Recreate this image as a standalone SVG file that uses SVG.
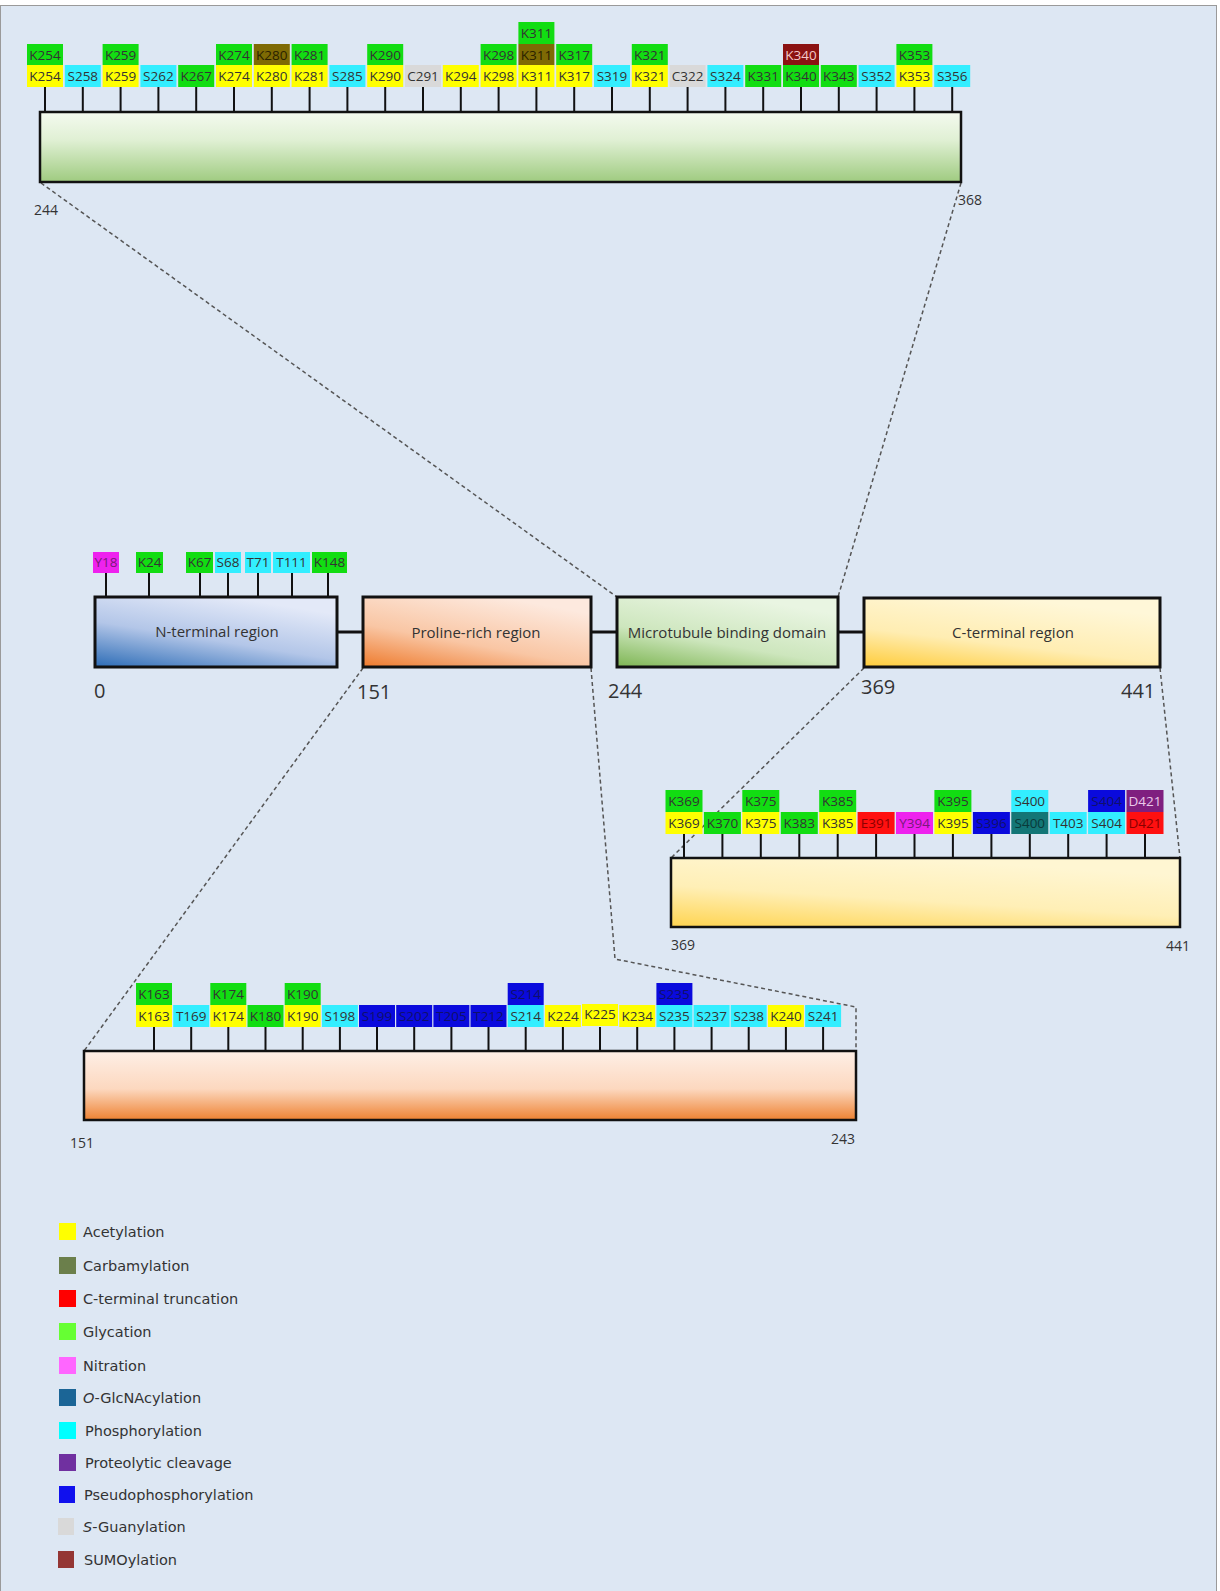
<svg xmlns="http://www.w3.org/2000/svg" width="1220" height="1591" viewBox="0 0 1220 1591">
<defs>
<linearGradient id="gN" x1="0" y1="1" x2="0.55" y2="0"><stop offset="0" stop-color="#2C6CB6"/><stop offset="0.5" stop-color="#B3C6E8"/><stop offset="1" stop-color="#E3E9F8"/></linearGradient>
<linearGradient id="gP" x1="0" y1="1" x2="0.6" y2="0"><stop offset="0" stop-color="#EE7A2C"/><stop offset="0.45" stop-color="#F9C6A4"/><stop offset="1" stop-color="#FDE9DE"/></linearGradient>
<linearGradient id="gM" x1="0" y1="1" x2="0.55" y2="0"><stop offset="0" stop-color="#7DB552"/><stop offset="0.45" stop-color="#CDE6BD"/><stop offset="1" stop-color="#E9F5E2"/></linearGradient>
<linearGradient id="gC" x1="0" y1="1" x2="0.5" y2="0"><stop offset="0" stop-color="#FFCC3A"/><stop offset="0.45" stop-color="#FFEDB2"/><stop offset="1" stop-color="#FFF7D8"/></linearGradient>
<linearGradient id="gMz" x1="0" y1="0" x2="0" y2="1"><stop offset="0" stop-color="#F4FAEF"/><stop offset="0.4" stop-color="#E0F0D4"/><stop offset="1" stop-color="#9FCB80"/></linearGradient>
<linearGradient id="gPz" x1="0" y1="0" x2="0" y2="1"><stop offset="0" stop-color="#FEEFE6"/><stop offset="0.55" stop-color="#FCD8BF"/><stop offset="1" stop-color="#EE8232"/></linearGradient>
<linearGradient id="gCz" x1="0" y1="1" x2="0.45" y2="0"><stop offset="0" stop-color="#FFD450"/><stop offset="0.5" stop-color="#FFEFB6"/><stop offset="1" stop-color="#FFF6D2"/></linearGradient>
<style>
.dom{stroke:#111;stroke-width:3}
.zb{stroke:#111;stroke-width:2.5}
.tk{stroke:#111;stroke-width:2}
.lb text{font-family:"Open Sans","Liberation Sans",sans-serif;font-size:13.5px;text-anchor:middle;fill:#333}
.y{fill:#FFFF00}.g{fill:#12DD12}.c{fill:#33EEFF}.b{fill:#0A0ADD}.gr{fill:#D9D9D9}.ol{fill:#7E6A04}.dr{fill:#8B1212}.m{fill:#EE22EE}.r{fill:#FF1010}.t{fill:#137676}.p{fill:#7F1F7F}
.lb text.tb{fill:#10106A}.lb text.tdr{fill:#F2C8C8}.lb text.tp{fill:#EAC8EA}.lb text.tr{fill:#8B0000}.lb text.tm{fill:#7A1A7A}.lb text.tt{fill:#0A3A3A}.lb text.to{fill:#2A2200}
.dl{font-family:"Open Sans","Liberation Sans",sans-serif;font-size:15px;fill:#333;text-anchor:middle}
.num{font-family:"Open Sans","Liberation Sans",sans-serif;font-size:20px;fill:#333}
.sn{font-family:"Open Sans","Liberation Sans",sans-serif;font-size:14px;fill:#333}
.dash{fill:none;stroke:#555;stroke-width:1.5;stroke-dasharray:4 3}
.lg text{font-family:"DejaVu Sans","Verdana",sans-serif;font-size:14.5px;fill:#333}
</style>
</defs>
<rect x="0" y="0" width="1220" height="1591" fill="#FFFFFF"/>
<rect x="0.5" y="5.5" width="1216" height="1590" fill="#DDE7F3" stroke="#9A9A9A" stroke-width="1"/>

<g id="connectors">
<line x1="337" y1="632" x2="363" y2="632" stroke="#111" stroke-width="3"/>
<line x1="591" y1="632" x2="617" y2="632" stroke="#111" stroke-width="3"/>
<line x1="838" y1="632" x2="864" y2="632" stroke="#111" stroke-width="3"/>
<line class="dash" x1="41" y1="183" x2="617" y2="597"/>
<line class="dash" x1="961" y1="183" x2="838" y2="597"/>
<line class="dash" x1="864" y1="668" x2="671" y2="858"/>
<line class="dash" x1="1160" y1="668" x2="1180" y2="858"/>
<line class="dash" x1="363" y1="668" x2="84" y2="1051"/>
<polyline class="dash" points="591,668 615,959 856,1007 856,1051"/>
</g>

<g id="domain-nterm"><rect class="dom" x="95" y="597" width="242" height="70" fill="url(#gN)"/><text class="dl" x="217" y="637">N-terminal  region</text><text class="num" x="94" y="698">0</text></g>
<g id="domain-proline"><rect class="dom" x="363" y="597" width="228" height="70" fill="url(#gP)"/><text class="dl" x="476" y="638">Proline-rich region</text><text class="num" x="357" y="699">151</text></g>
<g id="domain-mtbd"><rect class="dom" x="617" y="597" width="221" height="70" fill="url(#gM)"/><text class="dl" x="727" y="638">Microtubule binding domain</text><text class="num" x="608" y="698">244</text></g>
<g id="domain-cterm"><rect class="dom" x="864" y="598" width="296" height="69" fill="url(#gC)"/><text class="dl" x="1013" y="638">C-terminal  region</text><text class="num" x="861" y="694">369</text><text class="num" x="1121" y="698">441</text></g>

<g id="zoom-mtbd"><rect class="zb" x="40" y="112" width="921" height="70" fill="url(#gMz)"/><text class="sn" x="34" y="215">244</text><text class="sn" x="958" y="205">368</text></g>
<g id="zoom-proline"><rect class="zb" x="84" y="1051" width="772" height="69" fill="url(#gPz)"/><text class="sn" x="70" y="1148">151</text><text class="sn" x="831" y="1144">243</text></g>
<g id="zoom-cterm"><rect class="zb" x="671" y="858" width="509" height="69" fill="url(#gCz)"/><text class="sn" x="671" y="950">369</text><text class="sn" x="1166" y="951">441</text></g>

<g id="ptm-nterm" class="lb">
<line class="tk" x1="106" y1="573" x2="106" y2="597"/><rect class="m" x="93" y="552" width="26" height="21"/><text class="tm" x="106" y="567">Y18</text>
<line class="tk" x1="149" y1="573" x2="149" y2="597"/><rect class="g" x="136" y="552" width="27" height="21"/><text x="149.5" y="567">K24</text>
<line class="tk" x1="200" y1="573" x2="200" y2="597"/><rect class="g" x="186" y="552" width="27" height="21"/><text x="199.5" y="567">K67</text>
<line class="tk" x1="228" y1="573" x2="228" y2="597"/><rect class="c" x="215" y="552" width="26" height="21"/><text x="228" y="567">S68</text>
<line class="tk" x1="258" y1="573" x2="258" y2="597"/><rect class="c" x="245" y="552" width="26" height="21"/><text x="258" y="567">T71</text>
<line class="tk" x1="292" y1="573" x2="292" y2="597"/><rect class="c" x="273" y="552" width="37" height="21"/><text x="291.5" y="567">T111</text>
<line class="tk" x1="328" y1="573" x2="328" y2="597"/><rect class="g" x="312" y="552" width="35" height="21"/><text x="329.5" y="567">K148</text>
</g>

<g id="ptm-mtbd" class="lb">
<g id="s-K254"><line class="tk" x1="45" y1="87" x2="45" y2="112"/><rect class="y" x="27" y="65" width="36" height="22"/><text x="45" y="81">K254</text><rect class="g" x="27" y="44" width="36" height="21"/><text x="45" y="59.5">K254</text></g>
<g id="s-S258"><line class="tk" x1="82.8" y1="87" x2="82.8" y2="112"/><rect class="c" x="64.8" y="65" width="36" height="22"/><text x="82.8" y="81">S258</text></g>
<g id="s-K259"><line class="tk" x1="120.6" y1="87" x2="120.6" y2="112"/><rect class="y" x="102.6" y="65" width="36" height="22"/><text x="120.6" y="81">K259</text><rect class="g" x="102.6" y="44" width="36" height="21"/><text x="120.6" y="59.5">K259</text></g>
<g id="s-S262"><line class="tk" x1="158.4" y1="87" x2="158.4" y2="112"/><rect class="c" x="140.4" y="65" width="36" height="22"/><text x="158.4" y="81">S262</text></g>
<g id="s-K267"><line class="tk" x1="196.2" y1="87" x2="196.2" y2="112"/><rect class="g" x="178.2" y="65" width="36" height="22"/><text x="196.2" y="81">K267</text></g>
<g id="s-K274"><line class="tk" x1="234" y1="87" x2="234" y2="112"/><rect class="y" x="216" y="65" width="36" height="22"/><text x="234" y="81">K274</text><rect class="g" x="216" y="44" width="36" height="21"/><text x="234" y="59.5">K274</text></g>
<g id="s-K280"><line class="tk" x1="271.8" y1="87" x2="271.8" y2="112"/><rect class="y" x="253.8" y="65" width="36" height="22"/><text x="271.8" y="81">K280</text><rect class="ol" x="253.8" y="44" width="36" height="21"/><text class="to" x="271.8" y="59.5">K280</text></g>
<g id="s-K281"><line class="tk" x1="309.6" y1="87" x2="309.6" y2="112"/><rect class="y" x="291.6" y="65" width="36" height="22"/><text x="309.6" y="81">K281</text><rect class="g" x="291.6" y="44" width="36" height="21"/><text x="309.6" y="59.5">K281</text></g>
<g id="s-S285"><line class="tk" x1="347.4" y1="87" x2="347.4" y2="112"/><rect class="c" x="329.4" y="65" width="36" height="22"/><text x="347.4" y="81">S285</text></g>
<g id="s-K290"><line class="tk" x1="385.2" y1="87" x2="385.2" y2="112"/><rect class="y" x="367.2" y="65" width="36" height="22"/><text x="385.2" y="81">K290</text><rect class="g" x="367.2" y="44" width="36" height="21"/><text x="385.2" y="59.5">K290</text></g>
<g id="s-C291"><line class="tk" x1="423" y1="87" x2="423" y2="112"/><rect class="gr" x="405" y="65" width="36" height="22"/><text x="423" y="81">C291</text></g>
<g id="s-K294"><line class="tk" x1="460.8" y1="87" x2="460.8" y2="112"/><rect class="y" x="442.8" y="65" width="36" height="22"/><text x="460.8" y="81">K294</text></g>
<g id="s-K298"><line class="tk" x1="498.6" y1="87" x2="498.6" y2="112"/><rect class="y" x="480.6" y="65" width="36" height="22"/><text x="498.6" y="81">K298</text><rect class="g" x="480.6" y="44" width="36" height="21"/><text x="498.6" y="59.5">K298</text></g>
<g id="s-K311"><line class="tk" x1="536.4" y1="87" x2="536.4" y2="112"/><rect class="y" x="518.4" y="65" width="36" height="22"/><text x="536.4" y="81">K311</text><rect class="ol" x="518.4" y="44" width="36" height="21"/><text class="to" x="536.4" y="59.5">K311</text><rect class="g" x="518.4" y="22" width="36" height="22"/><text x="536.4" y="38">K311</text></g>
<g id="s-K317"><line class="tk" x1="574.2" y1="87" x2="574.2" y2="112"/><rect class="y" x="556.2" y="65" width="36" height="22"/><text x="574.2" y="81">K317</text><rect class="g" x="556.2" y="44" width="36" height="21"/><text x="574.2" y="59.5">K317</text></g>
<g id="s-S319"><line class="tk" x1="612" y1="87" x2="612" y2="112"/><rect class="c" x="594" y="65" width="36" height="22"/><text x="612" y="81">S319</text></g>
<g id="s-K321"><line class="tk" x1="649.8" y1="87" x2="649.8" y2="112"/><rect class="y" x="631.8" y="65" width="36" height="22"/><text x="649.8" y="81">K321</text><rect class="g" x="631.8" y="44" width="36" height="21"/><text x="649.8" y="59.5">K321</text></g>
<g id="s-C322"><line class="tk" x1="687.6" y1="87" x2="687.6" y2="112"/><rect class="gr" x="669.6" y="65" width="36" height="22"/><text x="687.6" y="81">C322</text></g>
<g id="s-S324"><line class="tk" x1="725.4" y1="87" x2="725.4" y2="112"/><rect class="c" x="707.4" y="65" width="36" height="22"/><text x="725.4" y="81">S324</text></g>
<g id="s-K331"><line class="tk" x1="763.2" y1="87" x2="763.2" y2="112"/><rect class="g" x="745.2" y="65" width="36" height="22"/><text x="763.2" y="81">K331</text></g>
<g id="s-K340"><line class="tk" x1="801" y1="87" x2="801" y2="112"/><rect class="g" x="783" y="65" width="36" height="22"/><text x="801" y="81">K340</text><rect class="dr" x="783" y="44" width="36" height="21"/><text class="tdr" x="801" y="59.5">K340</text></g>
<g id="s-K343"><line class="tk" x1="838.8" y1="87" x2="838.8" y2="112"/><rect class="g" x="820.8" y="65" width="36" height="22"/><text x="838.8" y="81">K343</text></g>
<g id="s-S352"><line class="tk" x1="876.6" y1="87" x2="876.6" y2="112"/><rect class="c" x="858.6" y="65" width="36" height="22"/><text x="876.6" y="81">S352</text></g>
<g id="s-K353"><line class="tk" x1="914.4" y1="87" x2="914.4" y2="112"/><rect class="y" x="896.4" y="65" width="36" height="22"/><text x="914.4" y="81">K353</text><rect class="g" x="896.4" y="44" width="36" height="21"/><text x="914.4" y="59.5">K353</text></g>
<g id="s-S356"><line class="tk" x1="952.2" y1="87" x2="952.2" y2="112"/><rect class="c" x="934.2" y="65" width="36" height="22"/><text x="952.2" y="81">S356</text></g>
</g>

<g id="ptm-cterm" class="lb">
<g id="s-K369"><line class="tk" x1="684" y1="834" x2="684" y2="858"/><rect class="y" x="665.5" y="812" width="37" height="22"/><text x="684" y="828">K369</text><rect class="g" x="665.5" y="790" width="37" height="22"/><text x="684" y="806">K369</text></g>
<g id="s-K370"><line class="tk" x1="722.4" y1="834" x2="722.4" y2="858"/><rect class="g" x="703.9" y="812" width="37" height="22"/><text x="722.4" y="828">K370</text></g>
<g id="s-K375"><line class="tk" x1="760.8" y1="834" x2="760.8" y2="858"/><rect class="y" x="742.3" y="812" width="37" height="22"/><text x="760.8" y="828">K375</text><rect class="g" x="742.3" y="790" width="37" height="22"/><text x="760.8" y="806">K375</text></g>
<g id="s-K383"><line class="tk" x1="799.3" y1="834" x2="799.3" y2="858"/><rect class="g" x="780.8" y="812" width="37" height="22"/><text x="799.3" y="828">K383</text></g>
<g id="s-K385"><line class="tk" x1="837.7" y1="834" x2="837.7" y2="858"/><rect class="y" x="819.2" y="812" width="37" height="22"/><text x="837.7" y="828">K385</text><rect class="g" x="819.2" y="790" width="37" height="22"/><text x="837.7" y="806">K385</text></g>
<g id="s-E391"><line class="tk" x1="876.1" y1="834" x2="876.1" y2="858"/><rect class="r" x="857.6" y="812" width="37" height="22"/><text class="tr" x="876.1" y="828">E391</text></g>
<g id="s-Y394"><line class="tk" x1="914.5" y1="834" x2="914.5" y2="858"/><rect class="m" x="896" y="812" width="37" height="22"/><text class="tm" x="914.5" y="828">Y394</text></g>
<g id="s-K395"><line class="tk" x1="952.9" y1="834" x2="952.9" y2="858"/><rect class="y" x="934.4" y="812" width="37" height="22"/><text x="952.9" y="828">K395</text><rect class="g" x="934.4" y="790" width="37" height="22"/><text x="952.9" y="806">K395</text></g>
<g id="s-S396"><line class="tk" x1="991.4" y1="834" x2="991.4" y2="858"/><rect class="b" x="972.9" y="812" width="37" height="22"/><text class="tb" x="991.4" y="828">S396</text></g>
<g id="s-S400"><line class="tk" x1="1029.8" y1="834" x2="1029.8" y2="858"/><rect class="t" x="1011.3" y="812" width="37" height="22"/><text class="tt" x="1029.8" y="828">S400</text><rect class="c" x="1011.3" y="790" width="37" height="22"/><text x="1029.8" y="806">S400</text></g>
<g id="s-T403"><line class="tk" x1="1068.2" y1="834" x2="1068.2" y2="858"/><rect class="c" x="1049.7" y="812" width="37" height="22"/><text x="1068.2" y="828">T403</text></g>
<g id="s-S404"><line class="tk" x1="1106.6" y1="834" x2="1106.6" y2="858"/><rect class="c" x="1088.1" y="812" width="37" height="22"/><text x="1106.6" y="828">S404</text><rect class="b" x="1088.1" y="790" width="37" height="22"/><text class="tb" x="1106.6" y="806">S404</text></g>
<g id="s-D421"><line class="tk" x1="1145" y1="834" x2="1145" y2="858"/><rect class="r" x="1126.5" y="812" width="37" height="22"/><text class="tr" x="1145" y="828">D421</text><rect class="p" x="1126.5" y="790" width="37" height="22"/><text class="tp" x="1145" y="806">D421</text></g>
</g>

<g id="ptm-proline" class="lb">
<g id="s-K163"><line class="tk" x1="154" y1="1027" x2="154" y2="1051"/><rect class="y" x="136" y="1005" width="36" height="22"/><text x="154" y="1021">K163</text><rect class="g" x="136" y="983" width="36" height="22"/><text x="154" y="999">K163</text></g>
<g id="s-T169"><line class="tk" x1="191.2" y1="1027" x2="191.2" y2="1051"/><rect class="c" x="173.2" y="1005" width="36" height="22"/><text x="191.2" y="1021">T169</text></g>
<g id="s-K174"><line class="tk" x1="228.3" y1="1027" x2="228.3" y2="1051"/><rect class="y" x="210.3" y="1005" width="36" height="22"/><text x="228.3" y="1021">K174</text><rect class="g" x="210.3" y="983" width="36" height="22"/><text x="228.3" y="999">K174</text></g>
<g id="s-K180"><line class="tk" x1="265.5" y1="1027" x2="265.5" y2="1051"/><rect class="g" x="247.5" y="1005" width="36" height="22"/><text x="265.5" y="1021">K180</text></g>
<g id="s-K190"><line class="tk" x1="302.7" y1="1027" x2="302.7" y2="1051"/><rect class="y" x="284.7" y="1005" width="36" height="22"/><text x="302.7" y="1021">K190</text><rect class="g" x="284.7" y="983" width="36" height="22"/><text x="302.7" y="999">K190</text></g>
<g id="s-S198"><line class="tk" x1="339.9" y1="1027" x2="339.9" y2="1051"/><rect class="c" x="321.9" y="1005" width="36" height="22"/><text x="339.9" y="1021">S198</text></g>
<g id="s-S199"><line class="tk" x1="377" y1="1027" x2="377" y2="1051"/><rect class="b" x="359" y="1005" width="36" height="22"/><text class="tb" x="377" y="1021">S199</text></g>
<g id="s-S202"><line class="tk" x1="414.2" y1="1027" x2="414.2" y2="1051"/><rect class="b" x="396.2" y="1005" width="36" height="22"/><text class="tb" x="414.2" y="1021">S202</text></g>
<g id="s-T205"><line class="tk" x1="451.4" y1="1027" x2="451.4" y2="1051"/><rect class="b" x="433.4" y="1005" width="36" height="22"/><text class="tb" x="451.4" y="1021">T205</text></g>
<g id="s-T212"><line class="tk" x1="488.5" y1="1027" x2="488.5" y2="1051"/><rect class="b" x="470.5" y="1005" width="36" height="22"/><text class="tb" x="488.5" y="1021">T212</text></g>
<g id="s-S214"><line class="tk" x1="525.7" y1="1027" x2="525.7" y2="1051"/><rect class="c" x="507.7" y="1005" width="36" height="22"/><text x="525.7" y="1021">S214</text><rect class="b" x="507.7" y="983" width="36" height="22"/><text class="tb" x="525.7" y="999">S214</text></g>
<g id="s-K224"><line class="tk" x1="562.9" y1="1027" x2="562.9" y2="1051"/><rect class="y" x="544.9" y="1005" width="36" height="22"/><text x="562.9" y="1021">K224</text></g>
<g id="s-K225"><line class="tk" x1="600" y1="1027" x2="600" y2="1051"/><rect class="y" x="582" y="1004" width="36" height="22"/><text x="600" y="1019">K225</text></g>
<g id="s-K234"><line class="tk" x1="637.2" y1="1027" x2="637.2" y2="1051"/><rect class="y" x="619.2" y="1005" width="36" height="22"/><text x="637.2" y="1021">K234</text></g>
<g id="s-S235"><line class="tk" x1="674.4" y1="1027" x2="674.4" y2="1051"/><rect class="c" x="656.4" y="1005" width="36" height="22"/><text x="674.4" y="1021">S235</text><rect class="b" x="656.4" y="983" width="36" height="22"/><text class="tb" x="674.4" y="999">S235</text></g>
<g id="s-S237"><line class="tk" x1="711.6" y1="1027" x2="711.6" y2="1051"/><rect class="c" x="693.6" y="1005" width="36" height="22"/><text x="711.6" y="1021">S237</text></g>
<g id="s-S238"><line class="tk" x1="748.7" y1="1027" x2="748.7" y2="1051"/><rect class="c" x="730.7" y="1005" width="36" height="22"/><text x="748.7" y="1021">S238</text></g>
<g id="s-K240"><line class="tk" x1="785.9" y1="1027" x2="785.9" y2="1051"/><rect class="y" x="767.9" y="1005" width="36" height="22"/><text x="785.9" y="1021">K240</text></g>
<g id="s-S241"><line class="tk" x1="823.1" y1="1027" x2="823.1" y2="1051"/><rect class="c" x="805.1" y="1005" width="36" height="22"/><text x="823.1" y="1021">S241</text></g>
</g>

<g id="legend" class="lg">
<rect x="59" y="1223" width="17" height="17" fill="#FFFF00"/><text x="83" y="1237">Acetylation</text>
<rect x="59" y="1257" width="17" height="17" fill="#6B7F4B"/><text x="83" y="1271">Carbamylation</text>
<rect x="59" y="1290" width="17" height="17" fill="#FF0000"/><text x="83" y="1304">C-terminal  truncation</text>
<rect x="59" y="1323" width="17" height="17" fill="#66FF33"/><text x="83" y="1337">Glycation</text>
<rect x="59" y="1357" width="17" height="17" fill="#FF66FF"/><text x="83" y="1371">Nitration</text>
<rect x="59" y="1389" width="17" height="17" fill="#1B6596"/><text x="83" y="1403"><tspan font-style="italic">O</tspan>-GlcNAcylation</text>
<rect x="59" y="1422" width="17" height="17" fill="#00FFFF"/><text x="85" y="1436">Phosphorylation</text>
<rect x="59" y="1454" width="17" height="17" fill="#7030A0"/><text x="85" y="1468">Proteolytic  cleavage</text>
<rect x="59" y="1486" width="16" height="17" fill="#1010EE"/><text x="84" y="1500">Pseudophosphorylation</text>
<rect x="58" y="1518" width="16" height="17" fill="#D9D9D9"/><text x="83" y="1532"><tspan font-style="italic">S</tspan>-Guanylation</text>
<rect x="58" y="1551" width="16" height="17" fill="#943634"/><text x="84" y="1565">SUMOylation</text>
</g>
</svg>
